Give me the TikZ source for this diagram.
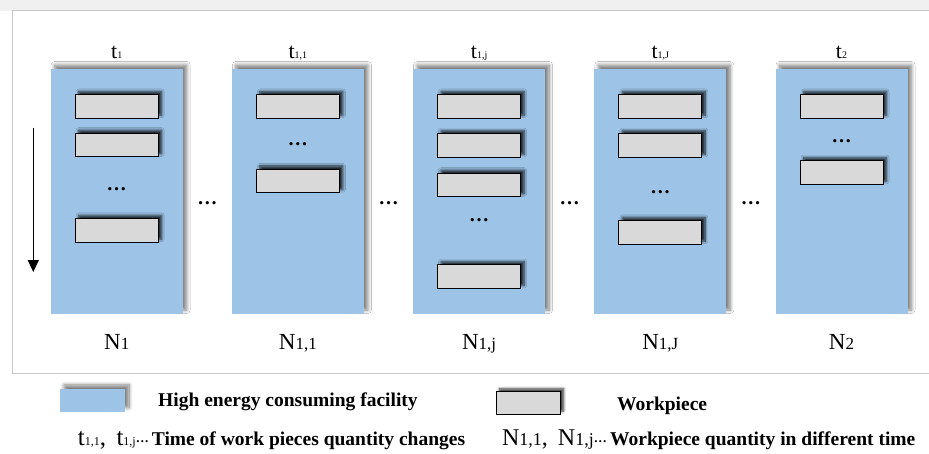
\documentclass[tikz,border=0pt]{standalone}
\usepackage{fontspec}
\setmainfont{Liberation Serif}
\usetikzlibrary{arrows.meta,shadows.blur}
\definecolor{facblue}{HTML}{9DC3E6}
\definecolor{wpgray}{HTML}{D9D9D9}
\newcommand\smalldigits[1]{{\fontsize{10}{10}\selectfont #1}}
\newcommand\legdigits[1]{{\fontsize{12}{12}\selectfont #1}}
\newcommand\ndigits[1]{{\fontsize{17}{17}\selectfont #1}}
\newcommand\nlegdigits[1]{{\fontsize{18}{18}\selectfont #1}}
\tikzset{
  facility/.style={rectangle, fill=facblue, inner sep=0pt, minimum width=132pt, minimum height=245pt,
    blur shadow={shadow xshift=4pt, shadow yshift=4pt, shadow blur steps=10, shadow blur radius=3.5pt, shadow opacity=50}},
  workpc/.style={rectangle, draw=black, line width=0.9pt, fill=wpgray, inner sep=0pt, minimum width=83pt, minimum height=23.7pt,
    blur shadow={shadow xshift=3.5pt, shadow yshift=3pt, shadow blur steps=8, shadow blur radius=2.5pt, shadow opacity=80}},
  tlabel/.style={anchor=base, inner sep=0pt, font=\fontsize{22}{22}\selectfont},
  nlabel/.style={anchor=base, inner sep=0pt, font=\fontsize{23}{23}\selectfont},
  dotsin/.style={anchor=base, inner sep=0pt, font=\fontsize{20}{20}\selectfont\bfseries},
  legtext/.style={anchor=base west, inner sep=0pt, font=\fontsize{19.5}{19.5}\selectfont\bfseries},
  legpre/.style={anchor=base east, inner sep=0pt},
}
\begin{document}
\begin{tikzpicture}[x=1pt,y=-1pt]
\useasboundingbox (0,0) rectangle (929,453);
% frame
\fill[gray!12] (0,0) rectangle (929,11);
\draw[draw=gray!45, line width=1pt, fill=white] (12.7,10.5) rectangle (945,373);

% facilities
\foreach \i/\x in {1/116.7,2/297.9,3/479.1,4/660.3,5/841.5}{
  \node[facility] (fac\i) at (\x,191.5) {};
}
% workpieces
\node[workpc] (w11) at (116.7,106.3) {};
\node[workpc] (w12) at (116.7,145) {};
\node[dotsin] (d1) at (116.7,190.5) {…};
\node[workpc] (w13) at (116.7,230.2) {};

\node[workpc] (w21) at (297.9,106.3) {};
\node[dotsin] (d2) at (297.9,145.5) {…};
\node[workpc] (w22) at (297.9,180.8) {};

\node[workpc] (w31) at (479.1,106.3) {};
\node[workpc] (w32) at (479.1,145.5) {};
\node[workpc] (w33) at (479.1,185) {};
\node[dotsin] (d3) at (479.1,221.5) {…};
\node[workpc] (w34) at (479.1,276.5) {};

\node[workpc] (w41) at (660.3,106.3) {};
\node[workpc] (w42) at (660.3,145.5) {};
\node[dotsin] (d4) at (660.3,193.5) {…};
\node[workpc] (w43) at (660.3,232.3) {};

\node[workpc] (w51) at (841.5,106.3) {};
\node[dotsin] (d5) at (841.5,142.5) {…};
\node[workpc] (w52) at (841.5,172.5) {};

% dots between facilities
\node[dotsin] (b12) at (207.3,204.2) {…};
\node[dotsin] (b23) at (388.5,204.2) {…};
\node[dotsin] (b34) at (569.7,204.2) {…};
\node[dotsin] (b45) at (750.9,204.2) {…};

% time labels
\node[tlabel] (t1) at (116.7,58.3) {t\smalldigits{1}};
\node[tlabel] (t11) at (297.9,58.3) {t\smalldigits{1,1}};
\node[tlabel] (t1j) at (479.1,58.3) {t\smalldigits{1,j}};
\node[tlabel] (t1J) at (660.3,58.3) {t\smalldigits{1,J}};
\node[tlabel] (t2) at (841.5,58.3) {t\smalldigits{2}};

% quantity labels
\node[nlabel] (n1) at (116.7,349) {N\ndigits{1}};
\node[nlabel] (n11) at (297.9,349) {N\ndigits{1,1}};
\node[nlabel] (n1j) at (479.1,349) {N\ndigits{1,j}};
\node[nlabel] (n1J) at (660.3,349) {N\ndigits{1,J}};
\node[nlabel] (n2) at (841.5,349) {N\ndigits{2}};

% time arrow
\coordinate (arrtop) at (33.3,127.7);
\coordinate (arrbot) at (33.3,272);
\draw[line width=1.3pt, -{Triangle[width=11pt,length=12pt]}] (arrtop) -- (arrbot);

% legend
\node[facility, minimum width=65pt, minimum height=22.7pt] (legfac) at (92.5,400.3) {};
\node[legtext] (legfactxt) at (158,406) {High energy consuming facility};
\node[workpc, minimum width=64pt, minimum height=22.3pt] (legwp) at (528,402.9) {};
\node[legtext] (legwptxt) at (617,410.5) {Workpiece};
\node[legpre] (legt) at (149,445) {\fontsize{25}{25}\selectfont t\legdigits{1,1},\ \,t\legdigits{1,j}\raisebox{3pt}{\fontsize{13}{13}\selectfont\bfseries…}};
\node[legtext] (legttxt) at (151.7,445) {Time of work pieces quantity changes};
\node[legpre] (legn) at (607,445) {\fontsize{24}{24}\selectfont N\nlegdigits{1,1},\ \,N\nlegdigits{1,j}\raisebox{3pt}{\fontsize{13}{13}\selectfont\bfseries…}};
\node[legtext] (legntxt) at (610,445) {Workpiece quantity in different time};
\end{tikzpicture}
\end{document}
